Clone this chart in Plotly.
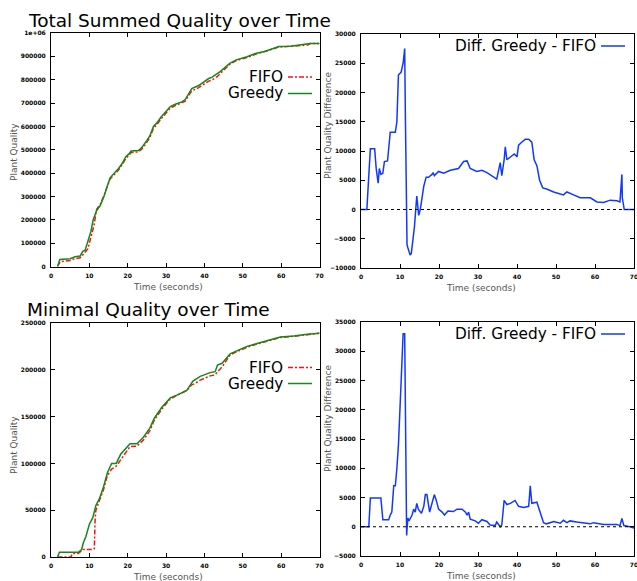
import plotly.graph_objects as go

W, H = 637, 581

# ---------------- data ----------------
total_greedy_t = [1.7, 2.3, 5.0, 6.3, 7.6, 8.3, 8.9, 10.4, 11.0, 11.9,
                  12.8, 13.8, 15.4, 16.3, 17.6, 18.5, 19.5, 20.2, 20.9, 22.8,
                  23.7, 25.0, 25.8, 26.7, 27.6, 28.7, 29.8, 31.1, 32.4, 34.1,
                  35.0, 35.9, 36.7, 38.5, 39.8, 41.1, 41.9, 43.3, 44.1, 46.6,
                  48.3, 51.1, 53.3, 55.9, 57.2, 59.4, 62.4, 65.0, 67.6, 70]
total_greedy = [0, 30000, 33000, 42000, 45000, 65000, 70000, 150000, 200000, 240000,
                260000, 300000, 380000, 395000, 420000, 440000, 470000, 480000, 495000, 497000,
                510000, 540000, 560000, 600000, 615000, 640000, 660000, 685000, 695000, 705000,
                715000, 740000, 762000, 775000, 790000, 805000, 810000, 825000, 835000, 870000,
                885000, 898000, 912000, 922000, 930000, 942000, 943000, 948000, 955000, 955000]

total_fifo_t = [1.7, 2.4, 5.0, 6.3, 7.6, 8.3, 8.9, 9.6, 10.4, 11.2,
                11.9, 12.8, 13.8, 15.4, 16.3, 17.6, 18.5, 19.5, 20.2, 20.9,
                22.8, 23.7, 25.0, 25.8, 26.7, 27.6, 28.7, 29.8, 31.1, 32.4,
                34.1, 35.0, 35.9, 36.7, 38.5, 39.8, 41.1, 41.9, 43.3, 44.1,
                45.0, 46.6, 48.3, 51.1, 53.3, 55.9, 57.2, 59.4, 62.4, 65.0,
                66.9, 67.6, 70]
total_fifo = [0, 20000, 26000, 34000, 37000, 52000, 60000, 75000, 125000, 175000,
              245000, 265000, 303000, 375000, 390000, 413000, 434000, 463000, 474000, 488000,
              491000, 503000, 533000, 553000, 592000, 607000, 633000, 653000, 678000, 689000,
              700000, 708000, 733000, 752000, 766000, 781000, 794000, 798000, 813000, 826000,
              840000, 866000, 882000, 895000, 909000, 920000, 928000, 940000, 942000, 946000,
              949000, 955000, 955000]

total_diff_t = [0, 1.5, 2.4, 3.5, 3.9, 4.4, 4.7, 5.1, 5.6, 6.0,
                6.8, 7.5, 8.8, 9.2, 9.6, 10.3, 10.8, 11.2, 11.4, 11.6,
                11.8, 12.0, 12.6, 12.9, 13.7, 14.3, 14.8, 15.2, 16.1, 16.7,
                17.3, 18.2, 18.5, 18.8, 19.9, 21.2, 22.9, 25.0, 26.3, 27.2,
                28.0, 29.7, 31.0, 32.3, 34.0, 34.8, 35.7, 36.1, 36.7, 37.0,
                37.4, 38.3, 39.3, 40.0, 40.4, 41.2, 42.1, 43.0, 43.8, 44.4,
                45.1, 45.8, 46.6, 47.6, 49.4, 51.9, 52.8, 54.5, 56.2, 58.8,
                60.5, 62.2, 63.9, 65.6, 66.4, 66.9, 67.0, 67.5, 70]
total_diff = [0, 0, 10400, 10400, 7000, 4500, 7000, 6000, 6200, 8200,
              8300, 13200, 13200, 15000, 23000, 23500, 25000, 27500, 15000, 0,
              -6000, -6500, -7800, -7500, -3000, 2300, -1000, 0, 4000, 5500,
              5500, 6000, 6300, 5800, 6500, 6200, 6700, 7000, 8200, 8300,
              7000, 6500, 6700, 6300, 5500, 5200, 8000, 5800, 8500, 10700,
              8500, 9000, 9500, 9000, 11000, 11500, 12000, 12000, 11500, 8500,
              7500, 5000, 3700, 3500, 3000, 2500, 3000, 2500, 2000, 2000,
              1300, 1200, 1600, 1500, 1300, 6000, 2000, 0, 0]

min_greedy_t = [1.7, 2.2, 7.1, 8.0, 8.4, 9.1, 10.0, 10.9, 11.7, 12.6,
                13.7, 14.7, 15.8, 17.0, 18.2, 19.6, 20.6, 22.4, 24.1, 25.8,
                26.9, 28.9, 31.1, 32.8, 35.4, 37.0, 38.9, 41.5, 42.8, 43.4,
                44.6, 46.7, 48.5, 51.1, 53.7, 56.3, 59.8, 63.3, 66.8, 70]
min_greedy = [0, 5000, 5000, 8000, 15000, 22000, 35000, 42000, 55000, 62000,
              75000, 90000, 100000, 100000, 110000, 117000, 121000, 121000, 128000, 138000,
              148000, 160000, 170000, 173000, 178000, 188000, 193000, 197000, 198000, 205000,
              207000, 217000, 220000, 225000, 228000, 231000, 235000, 236000, 238000, 239000]

min_fifo_t = [1.7, 5.2, 5.6, 7.1, 7.6, 8.4, 11.0, 11.3, 11.5, 11.7,
              12.6, 13.7, 14.7, 15.8, 17.0, 18.2, 19.6, 20.6, 22.4, 24.1,
              25.8, 26.9, 28.9, 31.1, 32.8, 35.4, 36.7, 37.4, 38.9, 41.5,
              42.8, 43.4, 44.6, 46.7, 48.5, 51.1, 53.7, 56.3, 59.8, 63.3,
              66.8, 70]
min_fifo = [0, 0, 3800, 3800, 5500, 8000, 8000, 9000, 40000, 50000,
            60000, 72000, 87000, 94000, 97000, 104000, 113000, 118000, 118500, 125000,
            135000, 146000, 158000, 169000, 172500, 178000, 184000, 185000, 189000, 193500,
            194500, 198000, 203000, 216000, 219500, 224000, 227500, 230500, 234500, 235800,
            237800, 239000]

min_diff_t = [0, 2.0, 2.4, 5.1, 5.6, 7.1, 7.5, 7.9, 8.4, 8.8,
              9.2, 9.6, 10.3, 10.8, 11.2, 11.4, 11.55, 11.7, 12.0, 12.3,
              13.1, 13.5, 13.9, 14.3, 14.7, 15.5, 16.1, 16.5, 16.9, 17.6,
              18.0, 18.8, 19.3, 19.9, 20.8, 21.4, 22.3, 23.7, 24.6, 25.9,
              26.8, 27.2, 27.6, 28.0, 29.3, 30.1, 31.0, 32.3, 33.1, 34.4,
              34.8, 35.7, 36.1, 36.7, 37.4, 38.3, 39.5, 40.4, 41.7, 43.0,
              43.4, 43.8, 45.1, 45.9, 46.8, 47.6, 49.4, 51.1, 51.9, 52.8,
              53.6, 55.3, 57.0, 58.8, 59.6, 62.2, 65.6, 66.4, 66.9, 67.4,
              68.9, 70]
min_diff = [0, 0, 4900, 4900, 1200, 1200, 2000, 2500, 7000, 7000,
            10000, 14000, 25000, 33000, 33000, 20000, 5000, -1500, 1500, 1000,
            2000, 3000, 2500, 4000, 3000, 2300, 3500, 5500, 5500, 2500,
            3500, 5500, 4500, 3000, 2500, 2000, 2700, 2600, 3000, 3000,
            2500, 2000, 2500, 1300, 1000, 600, 1200, 900, 300, 200,
            800, 0, 300, 4500, 3800, 4000, 4500, 3500, 3300, 3500,
            7000, 4000, 4200, 2500, 700, 500, 900, 600, 1100, 700,
            1000, 800, 700, 500, 700, 400, 400, 200, 1400, 200,
            0, -200]

x_ticks = [0, 10, 20, 30, 40, 50, 60, 70]
total_yticks = [0, 100000, 200000, 300000, 400000, 500000, 600000, 700000, 800000, 900000, 1000000]
total_yticktext = ["0", "100000", "200000", "300000", "400000", "500000",
                   "600000", "700000", "800000", "900000", "1e+06"]
total_diff_yticks = [-10000, -5000, 0, 5000, 10000, 15000, 20000, 25000, 30000]
min_yticks = [0, 50000, 100000, 150000, 200000, 250000]
min_diff_yticks = [-5000, 0, 5000, 10000, 15000, 20000, 25000, 30000, 35000]

titles = ["Total Summed Quality over Time", "Minimal Quality over Time"]
series_names = ["FIFO", "Greedy", "Diff. Greedy - FIFO"]
x_title = "Time (seconds)"
y_titles = ["Plant Quality", "Plant Quality Difference"]

RED, GREEN, BLUE = "#ff1010", "#13891a", "#1238ff"
FIFO_DASH = "5px,2px,2px,2px"


def px(v):
    return v / W


def py(v):
    return 1 - v / H


# plot-area boxes in page pixels: (left, right, top, bottom)
boxes = {
    1: (51, 319.5, 33, 266.5),
    2: (361, 634, 34, 268),
    3: (51, 319.5, 323, 557),
    4: (361, 634, 322, 556),
}

fig = go.Figure()

traces = [
    (1, total_fifo_t, total_fifo, RED, FIFO_DASH),
    (1, total_greedy_t, total_greedy, GREEN, "solid"),
    (2, total_diff_t, total_diff, BLUE, "solid"),
    (3, min_fifo_t, min_fifo, RED, FIFO_DASH),
    (3, min_greedy_t, min_greedy, GREEN, "solid"),
    (4, min_diff_t, min_diff, BLUE, "solid"),
]
for k, xs, ys, col, dash in traces:
    sfx = "" if k == 1 else str(k)
    fig.add_trace(go.Scatter(x=xs, y=ys, mode="lines", xaxis="x" + sfx, yaxis="y" + sfx,
                             line=dict(color=col, width=1.5, dash=dash), showlegend=False))

tickfont = dict(family="DejaVu Sans", size=6, color="black", weight="bold")
axis_common = dict(showline=True, linecolor="black", linewidth=1, mirror="ticks",
                   ticks="inside", ticklen=4, tickcolor="black", tickwidth=1,
                   showgrid=False, zeroline=False, tickfont=tickfont, fixedrange=True,
                   automargin=False, tickformat="d", ticklabelstandoff=3,
                   ticklabeloverflow="allow")

yconf = {
    1: dict(range=[0, 1000000], tickvals=total_yticks, ticktext=total_yticktext),
    2: dict(range=[-10000, 30000], tickvals=total_diff_yticks),
    3: dict(range=[0, 250000], tickvals=min_yticks),
    4: dict(range=[-5000, 35000], tickvals=min_diff_yticks),
}
layout = dict(width=W, height=H, margin=dict(l=0, r=0, t=0, b=0, autoexpand=False),
              template="none",
              paper_bgcolor="white", plot_bgcolor="white", showlegend=False)
for k, (l, r, t, b) in boxes.items():
    sfx = "" if k == 1 else str(k)
    layout["xaxis" + sfx] = dict(axis_common, domain=[px(l), px(r)], range=[0, 70],
                                 tickvals=x_ticks, anchor="y" + sfx)
    layout["yaxis" + sfx] = dict(axis_common, domain=[py(b), py(t)],
                                 anchor="x" + sfx, **yconf[k])
fig.update_layout(**layout)

shapes = []
# zero reference lines on the difference plots
for k in (2, 4):
    shapes.append(dict(type="line", xref="x%d domain" % k, yref="y%d" % k,
                       x0=0, x1=1, y0=0, y1=0,
                       line=dict(color="black", width=1, dash="dot")))

ann = []
# titles
ann.append(dict(text=titles[0], x=px(26), y=py(20), xanchor="left", yanchor="middle"))
ann.append(dict(text=titles[1], x=px(25), y=py(309), xanchor="left", yanchor="middle"))
for a in ann:
    a.update(xref="paper", yref="paper", showarrow=False,
             font=dict(family="DejaVu Sans", size=18.5, color="black"))

axis_font = dict(family="DejaVu Sans", size=9, color="#555555")
for k, (l, r, t, b) in boxes.items():
    ann.append(dict(text=x_title, x=px((l + r) / 2 - 17), y=py(b + 20), xref="paper", yref="paper",
                    showarrow=False, font=axis_font, xanchor="center", yanchor="middle"))
ytitle_items = [
    (y_titles[0], 14, 152),
    (y_titles[1], 328, 126),
    (y_titles[0], 14, 445),
    (y_titles[1], 328, 419),
]
for text, xx, yy in ytitle_items:
    ann.append(dict(text=text, x=px(xx), y=py(yy), textangle=-90, xref="paper", yref="paper",
                    showarrow=False, font=axis_font, xanchor="center", yanchor="middle"))

# legends (gnuplot style: text then sample line)
leg_font = dict(family="DejaVu Sans", size=15.3, color="black")
legend_items = [
    (series_names[0], 285, 77, RED, FIFO_DASH),
    (series_names[1], 285, 93.5, GREEN, "solid"),
    (series_names[2], 598, 46, BLUE, "solid"),
    (series_names[0], 285, 367.5, RED, FIFO_DASH),
    (series_names[1], 285, 383.5, GREEN, "solid"),
    (series_names[2], 598, 334, BLUE, "solid"),
]
for name, xr, yc, col, dash in legend_items:
    ann.append(dict(text=name, x=px(xr), y=py(yc), xref="paper", yref="paper", showarrow=False,
                    xanchor="right", yanchor="middle", font=leg_font))
    shapes.append(dict(type="line", xref="paper", yref="paper", x0=px(xr + 3), x1=px(xr + 27),
                       y0=py(yc), y1=py(yc), line=dict(color=col, width=1.5, dash=dash)))

fig.update_layout(annotations=ann, shapes=shapes)

fig.write_html("out.html", config={"displayModeBar": False},
               post_script="document.body.style.margin='0';document.body.style.overflow='hidden';")
